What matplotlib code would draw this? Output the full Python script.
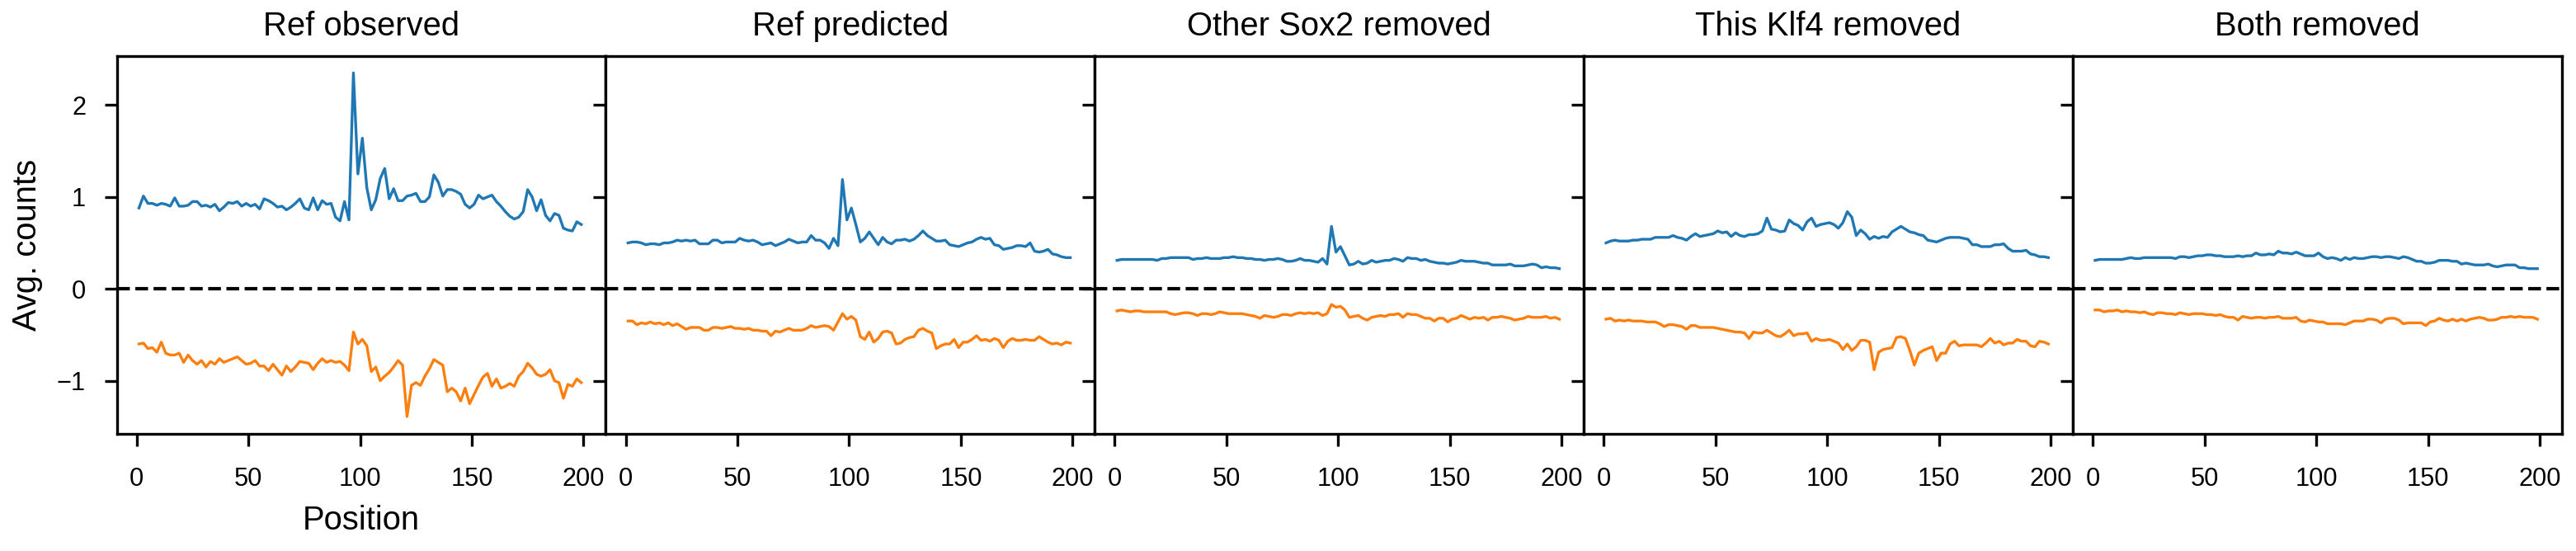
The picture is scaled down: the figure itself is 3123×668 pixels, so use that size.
import numpy as np
import matplotlib
matplotlib.use("Agg")
import matplotlib.pyplot as plt

plt.rcParams['font.family'] = ['Liberation Sans', 'DejaVu Sans']

# positions (every second base)
pos = np.arange(1, 200, 2)

titles = ["Ref observed", "Ref predicted", "Other Sox2 removed",
          "This Klf4 removed", "Both removed"]

ref_obs_pos = [
    0.88, 1.01, 0.93, 0.93, 0.91, 0.93, 0.92, 0.90, 0.99, 0.90,
    0.90, 0.91, 0.95, 0.95, 0.90, 0.91, 0.89, 0.92, 0.85, 0.89,
    0.94, 0.93, 0.95, 0.90, 0.93, 0.90, 0.92, 0.87, 0.98, 0.96,
    0.93, 0.89, 0.90, 0.86, 0.89, 0.93, 0.98, 0.88, 0.86, 0.99,
    0.86, 0.96, 0.92, 0.93, 0.78, 0.74, 0.95, 0.75, 2.35, 1.25,
    1.64, 1.10, 0.86, 0.97, 1.20, 1.31, 0.98, 1.09, 0.96, 0.96,
    1.01, 1.02, 1.04, 0.95, 0.95, 1.00, 1.24, 1.16, 1.01, 1.08,
    1.08, 1.06, 1.03, 0.92, 0.88, 0.92, 1.02, 0.98, 1.00, 1.02,
    0.95, 0.90, 0.84, 0.79, 0.76, 0.78, 0.84, 1.08, 1.00, 0.85,
    0.97, 0.80, 0.74, 0.82, 0.80, 0.66, 0.64, 0.63, 0.73, 0.70]
ref_obs_neg = [
    -0.60, -0.59, -0.65, -0.64, -0.69, -0.58, -0.70, -0.72, -0.72, -0.70,
    -0.80, -0.72, -0.78, -0.82, -0.78, -0.85, -0.79, -0.82, -0.76, -0.80,
    -0.78, -0.76, -0.74, -0.78, -0.82, -0.81, -0.78, -0.84, -0.84, -0.89,
    -0.82, -0.88, -0.94, -0.84, -0.90, -0.85, -0.79, -0.80, -0.81, -0.88,
    -0.81, -0.76, -0.80, -0.78, -0.80, -0.79, -0.83, -0.89, -0.47, -0.60,
    -0.55, -0.62, -0.90, -0.85, -1.00, -0.95, -0.91, -0.85, -0.78, -0.83,
    -1.39, -1.05, -1.02, -1.05, -0.95, -0.87, -0.77, -0.80, -0.83, -1.12,
    -1.08, -1.12, -1.22, -1.08, -1.25, -1.15, -1.05, -0.96, -0.92, -1.06,
    -0.98, -1.08, -1.06, -1.03, -1.06, -0.95, -0.90, -0.81, -0.86, -0.93,
    -0.95, -0.93, -0.88, -1.00, -1.02, -1.19, -1.04, -1.06, -0.98, -1.02]

ref_pred_pos = [
    0.50, 0.51, 0.51, 0.50, 0.48, 0.49, 0.49, 0.48, 0.50, 0.50,
    0.51, 0.53, 0.52, 0.53, 0.52, 0.53, 0.49, 0.49, 0.49, 0.53,
    0.53, 0.50, 0.51, 0.51, 0.51, 0.55, 0.53, 0.52, 0.53, 0.51,
    0.48, 0.49, 0.50, 0.47, 0.49, 0.51, 0.54, 0.52, 0.50, 0.51,
    0.51, 0.58, 0.53, 0.53, 0.50, 0.44, 0.55, 0.47, 1.19, 0.75,
    0.88, 0.70, 0.51, 0.55, 0.62, 0.55, 0.48, 0.56, 0.51, 0.49,
    0.53, 0.53, 0.54, 0.52, 0.54, 0.58, 0.63, 0.58, 0.55, 0.52,
    0.52, 0.53, 0.48, 0.47, 0.46, 0.48, 0.50, 0.51, 0.54, 0.56,
    0.54, 0.55, 0.48, 0.47, 0.43, 0.44, 0.45, 0.47, 0.47, 0.46,
    0.50, 0.41, 0.40, 0.41, 0.43, 0.38, 0.37, 0.35, 0.34, 0.34]
ref_pred_neg = [
    -0.35, -0.35, -0.39, -0.37, -0.38, -0.36, -0.38, -0.37, -0.39, -0.37,
    -0.40, -0.38, -0.41, -0.44, -0.42, -0.42, -0.42, -0.45, -0.45, -0.42,
    -0.42, -0.43, -0.42, -0.41, -0.43, -0.43, -0.44, -0.43, -0.45, -0.45,
    -0.46, -0.46, -0.51, -0.46, -0.47, -0.45, -0.43, -0.45, -0.45, -0.45,
    -0.43, -0.40, -0.42, -0.41, -0.40, -0.41, -0.45, -0.36, -0.27, -0.33,
    -0.30, -0.34, -0.52, -0.55, -0.47, -0.58, -0.54, -0.47, -0.46, -0.48,
    -0.60, -0.59, -0.55, -0.53, -0.52, -0.45, -0.43, -0.46, -0.48, -0.65,
    -0.62, -0.60, -0.60, -0.55, -0.64, -0.58, -0.58, -0.55, -0.51, -0.56,
    -0.55, -0.57, -0.54, -0.56, -0.64, -0.57, -0.54, -0.56, -0.56, -0.55,
    -0.56, -0.56, -0.52, -0.55, -0.58, -0.60, -0.59, -0.61, -0.58, -0.59]

sox2_pos = [
    0.31, 0.32, 0.32, 0.32, 0.32, 0.32, 0.32, 0.32, 0.32, 0.31,
    0.33, 0.33, 0.34, 0.34, 0.34, 0.34, 0.34, 0.32, 0.33, 0.33,
    0.34, 0.33, 0.33, 0.33, 0.34, 0.34, 0.35, 0.34, 0.34, 0.33,
    0.33, 0.32, 0.32, 0.31, 0.32, 0.32, 0.33, 0.32, 0.30, 0.30,
    0.31, 0.33, 0.31, 0.31, 0.30, 0.29, 0.33, 0.27, 0.68, 0.40,
    0.46, 0.36, 0.26, 0.27, 0.30, 0.27, 0.28, 0.31, 0.29, 0.30,
    0.31, 0.31, 0.33, 0.32, 0.30, 0.34, 0.33, 0.33, 0.31, 0.32,
    0.30, 0.29, 0.28, 0.28, 0.27, 0.28, 0.29, 0.31, 0.30, 0.30,
    0.30, 0.29, 0.28, 0.28, 0.26, 0.26, 0.26, 0.26, 0.27, 0.25,
    0.25, 0.25, 0.26, 0.27, 0.26, 0.23, 0.24, 0.23, 0.23, 0.22]
sox2_neg = [
    -0.24, -0.23, -0.24, -0.25, -0.24, -0.24, -0.25, -0.25, -0.25, -0.25,
    -0.25, -0.25, -0.27, -0.28, -0.27, -0.26, -0.26, -0.27, -0.29, -0.27,
    -0.27, -0.28, -0.27, -0.25, -0.26, -0.27, -0.27, -0.27, -0.27, -0.28,
    -0.29, -0.30, -0.32, -0.29, -0.30, -0.31, -0.30, -0.28, -0.28, -0.29,
    -0.27, -0.26, -0.27, -0.26, -0.27, -0.26, -0.29, -0.27, -0.17, -0.20,
    -0.19, -0.23, -0.31, -0.30, -0.29, -0.32, -0.34, -0.31, -0.30, -0.29,
    -0.30, -0.28, -0.28, -0.27, -0.31, -0.27, -0.28, -0.28, -0.30, -0.32,
    -0.32, -0.35, -0.32, -0.32, -0.36, -0.33, -0.32, -0.29, -0.31, -0.33,
    -0.31, -0.32, -0.31, -0.34, -0.31, -0.31, -0.30, -0.31, -0.32, -0.34,
    -0.33, -0.32, -0.30, -0.31, -0.31, -0.31, -0.30, -0.32, -0.31, -0.33]

klf4_pos = [
    0.50, 0.52, 0.53, 0.52, 0.52, 0.52, 0.53, 0.53, 0.54, 0.54,
    0.54, 0.56, 0.56, 0.56, 0.56, 0.58, 0.56, 0.55, 0.53, 0.57,
    0.60, 0.57, 0.58, 0.59, 0.60, 0.63, 0.61, 0.62, 0.57, 0.61,
    0.58, 0.57, 0.59, 0.59, 0.60, 0.63, 0.77, 0.65, 0.64, 0.62,
    0.63, 0.75, 0.71, 0.69, 0.64, 0.73, 0.77, 0.68, 0.70, 0.71,
    0.72, 0.70, 0.66, 0.72, 0.84, 0.78, 0.58, 0.64, 0.60, 0.54,
    0.57, 0.55, 0.57, 0.56, 0.62, 0.65, 0.68, 0.65, 0.62, 0.61,
    0.59, 0.58, 0.53, 0.52, 0.51, 0.53, 0.55, 0.56, 0.56, 0.56,
    0.55, 0.54, 0.48, 0.48, 0.46, 0.46, 0.46, 0.48, 0.48, 0.49,
    0.44, 0.41, 0.41, 0.41, 0.42, 0.38, 0.37, 0.35, 0.35, 0.34]
klf4_neg = [
    -0.33, -0.32, -0.35, -0.34, -0.35, -0.34, -0.35, -0.35, -0.35, -0.36,
    -0.36, -0.36, -0.38, -0.41, -0.39, -0.39, -0.40, -0.41, -0.44, -0.40,
    -0.40, -0.42, -0.42, -0.42, -0.42, -0.43, -0.44, -0.45, -0.46, -0.47,
    -0.47, -0.48, -0.54, -0.47, -0.48, -0.48, -0.45, -0.48, -0.51, -0.52,
    -0.49, -0.45, -0.51, -0.49, -0.49, -0.48, -0.57, -0.54, -0.56, -0.56,
    -0.55, -0.57, -0.59, -0.66, -0.60, -0.67, -0.63, -0.56, -0.56, -0.58,
    -0.88, -0.69, -0.66, -0.65, -0.64, -0.53, -0.52, -0.54, -0.67, -0.83,
    -0.70, -0.67, -0.65, -0.63, -0.78, -0.70, -0.70, -0.60, -0.57, -0.62,
    -0.61, -0.61, -0.61, -0.61, -0.63, -0.59, -0.54, -0.59, -0.57, -0.61,
    -0.59, -0.59, -0.55, -0.57, -0.57, -0.62, -0.63, -0.57, -0.58, -0.60]

both_pos = [
    0.31, 0.32, 0.32, 0.32, 0.32, 0.32, 0.32, 0.33, 0.34, 0.33,
    0.33, 0.34, 0.34, 0.34, 0.34, 0.34, 0.34, 0.34, 0.33, 0.35,
    0.35, 0.34, 0.35, 0.36, 0.36, 0.37, 0.37, 0.36, 0.36, 0.35,
    0.35, 0.35, 0.36, 0.35, 0.36, 0.36, 0.39, 0.37, 0.37, 0.38,
    0.37, 0.41, 0.39, 0.39, 0.38, 0.40, 0.38, 0.36, 0.36, 0.36,
    0.39, 0.35, 0.33, 0.34, 0.33, 0.31, 0.34, 0.32, 0.34, 0.33,
    0.33, 0.34, 0.35, 0.35, 0.34, 0.35, 0.35, 0.34, 0.33, 0.35,
    0.34, 0.32, 0.30, 0.30, 0.28, 0.28, 0.29, 0.31, 0.31, 0.31,
    0.30, 0.30, 0.27, 0.28, 0.27, 0.26, 0.26, 0.26, 0.27, 0.25,
    0.24, 0.25, 0.26, 0.26, 0.26, 0.23, 0.23, 0.22, 0.22, 0.22]
both_neg = [
    -0.23, -0.23, -0.25, -0.24, -0.24, -0.23, -0.25, -0.24, -0.25, -0.25,
    -0.26, -0.25, -0.27, -0.28, -0.26, -0.26, -0.27, -0.27, -0.28, -0.26,
    -0.27, -0.28, -0.27, -0.27, -0.27, -0.28, -0.28, -0.29, -0.28, -0.30,
    -0.31, -0.31, -0.34, -0.30, -0.31, -0.32, -0.31, -0.31, -0.32, -0.31,
    -0.31, -0.30, -0.32, -0.32, -0.32, -0.31, -0.35, -0.36, -0.34, -0.35,
    -0.36, -0.36, -0.38, -0.38, -0.38, -0.38, -0.39, -0.37, -0.35, -0.35,
    -0.35, -0.33, -0.33, -0.34, -0.37, -0.33, -0.32, -0.32, -0.34, -0.38,
    -0.37, -0.37, -0.37, -0.37, -0.40, -0.36, -0.35, -0.32, -0.34, -0.35,
    -0.33, -0.35, -0.33, -0.35, -0.33, -0.32, -0.31, -0.32, -0.34, -0.34,
    -0.33, -0.31, -0.31, -0.30, -0.31, -0.30, -0.31, -0.31, -0.31, -0.33]

pos_strand = [ref_obs_pos, ref_pred_pos, sox2_pos, klf4_pos, both_pos]
neg_strand = [ref_obs_neg, ref_pred_neg, sox2_neg, klf4_neg, both_neg]

fig, axes = plt.subplots(1, 5, figsize=(10.4133, 2.2267), dpi=300, sharey=True)
fig.subplots_adjust(left=0.0453, right=0.9942, bottom=0.2126, top=0.898, wspace=0)

for ax, title, yp, yn in zip(axes, titles, pos_strand, neg_strand):
    ax.plot(pos, yp, color="C0", lw=0.8)
    ax.plot(pos, yn, color="C1", lw=0.8)
    ax.axhline(0, color="k", ls="--", lw=1)
    ax.set_title(title, fontsize=9.6)
    ax.set_xlim(-8.95, 209.95)
    ax.set_xticks([0, 50, 100, 150, 200])
    ax.tick_params(axis="x", labelsize=7.4, pad=6)
    ax.tick_params(axis="y", labelsize=7.4, pad=5.5)

axes[0].set_ylim(-1.578, 2.532)
axes[0].set_yticks([-1, 0, 1, 2])
axes[0].set_ylabel("Avg. counts", fontsize=9.6)
axes[0].set_xlabel("Position", fontsize=9.6)

fig.savefig("out.png", dpi=300)
